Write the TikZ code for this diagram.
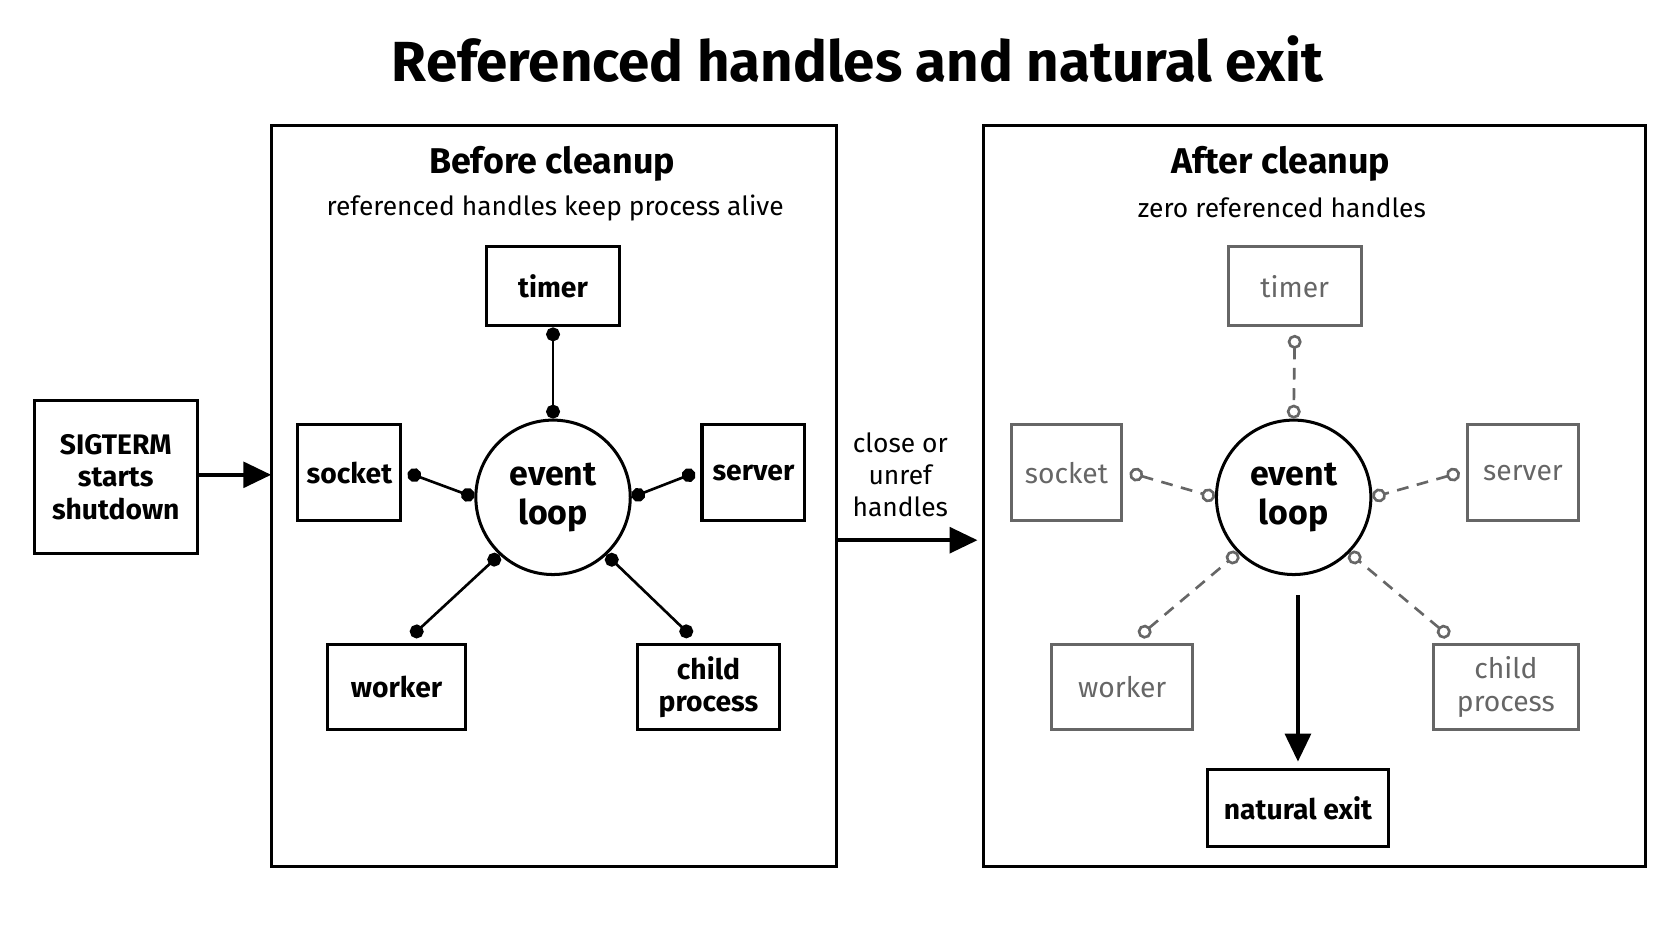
\documentclass[tikz,border=0pt]{standalone}
\usepackage{fontspec}
\setmainfont{Fira Sans}
\usetikzlibrary{positioning,arrows.meta}

\begin{document}
\begin{tikzpicture}[x=0.01cm,y=-0.01cm,
	box/.style={draw, line width=0.8pt, align=center, inner sep=0, font=\fontsize{7.5}{8.6}\selectfont\bfseries},
	gbox/.style={box, draw=black!60, text=black!60, font=\fontsize{7.5}{8.6}\selectfont},
	panel/.style={draw, line width=0.8pt},
	hlink/.style={line width=0.7pt, {Circle[length=1.3mm]}-{Circle[length=1.3mm]}},
	ulink/.style={line width=0.7pt, draw=black!60, dash pattern=on 1.1mm off 0.8mm, {Circle[open, fill=white, length=1.3mm]}-{Circle[open, fill=white, length=1.3mm]}},
	flow/.style={line width=1pt, -{Triangle[length=2.6mm, width=2.4mm]}}]
\useasboundingbox (0,0) rectangle (1560,878);
\node[font=\fontsize{15}{18}\selectfont\bfseries] (title) at (800,55) {Referenced handles and natural exit};
% panels
\draw[panel] (253,117) rectangle (780,808);
\draw[panel] (918,117) rectangle (1535,808);
\node[box, minimum width=1.52cm, minimum height=1.42cm] (sig) at (108,445) {SIGTERM\\starts\\shutdown};
\coordinate (lin) at (253,443);
\draw[flow] (sig.east |- lin) -- (lin);
% before cleanup
\node[font=\fontsize{9.5}{11}\selectfont\bfseries] (bhead) at (515,153) {Before cleanup};
\node[font=\fontsize{7}{8}\selectfont] (bsub) at (518,194) {referenced handles keep process alive};
\node[draw, circle, line width=0.8pt, minimum size=1.44cm, inner sep=0, align=center, font=\fontsize{9}{10.5}\selectfont\bfseries] (loopA) at (516,464) {event\\loop};
\node[box, minimum width=1.24cm, minimum height=0.74cm] (timerA) at (516,267) {timer};
\node[box, minimum width=0.96cm, minimum height=0.9cm] (socketA) at (326,441) {socket};
\node[box, minimum width=0.96cm, minimum height=0.9cm] (serverA) at (703,441) {server};
\node[box, minimum width=1.28cm, minimum height=0.8cm] (workerA) at (370,641) {worker};
\node[box, minimum width=1.32cm, minimum height=0.8cm] (childA) at (661,641) {child\\process};
\draw[hlink] (timerA.south) -- (loopA.north);
\draw[hlink] ([xshift=0.5mm]socketA.east) -- (loopA.west);
\draw[hlink] ([xshift=-0.5mm]serverA.west) -- (loopA.east);
\draw[hlink] ([xshift=1.4mm, yshift=0.6mm]workerA.north) -- (loopA.227);
\draw[hlink] ([xshift=-1.6mm, yshift=0.6mm]childA.north) -- (loopA.-47);
% transition
\node[font=\fontsize{7}{8.5}\selectfont, align=center] (cl) at (840,443) {close or\\unref\\handles};
\coordinate (rin) at (912,504);
\draw[flow] (780,504) -- (rin);
% after cleanup
\node[font=\fontsize{9.5}{11}\selectfont\bfseries] (ahead) at (1195,153) {After cleanup};
\node[font=\fontsize{7}{8}\selectfont] (asub) at (1196,194) {zero referenced handles};
\node[draw, circle, line width=0.8pt, minimum size=1.44cm, inner sep=0, align=center, font=\fontsize{9}{10.5}\selectfont\bfseries] (loopB) at (1207,464) {event\\loop};
\node[gbox, minimum width=1.24cm, minimum height=0.74cm] (timerB) at (1208,267) {timer};
\node[gbox, minimum width=1.03cm, minimum height=0.9cm] (socketB) at (995,441) {socket};
\node[gbox, minimum width=1.03cm, minimum height=0.9cm] (serverB) at (1421,441) {server};
\node[gbox, minimum width=1.31cm, minimum height=0.8cm] (workerB) at (1047,641) {worker};
\node[gbox, minimum width=1.35cm, minimum height=0.8cm] (childB) at (1405,641) {child\\process};
\node[box, minimum width=1.68cm, minimum height=0.72cm] (exitB) at (1211,754) {natural exit};
\draw[ulink] ([yshift=-0.7mm]timerB.south) -- (loopB.north);
\draw[ulink] ([xshift=0.6mm]socketB.east) -- (loopB.west);
\draw[ulink] ([xshift=-0.6mm]serverB.west) -- (loopB.east);
\draw[ulink] ([xshift=1.6mm, yshift=0.6mm]workerB.north) -- (loopB.225);
\draw[ulink] ([xshift=-5.3mm, yshift=0.6mm]childB.north) -- (loopB.-45);
\draw[flow] ([yshift=-1.8mm]loopB.south -| exitB.north) -- ([yshift=0.6mm]exitB.north);
\end{tikzpicture}
\end{document}
